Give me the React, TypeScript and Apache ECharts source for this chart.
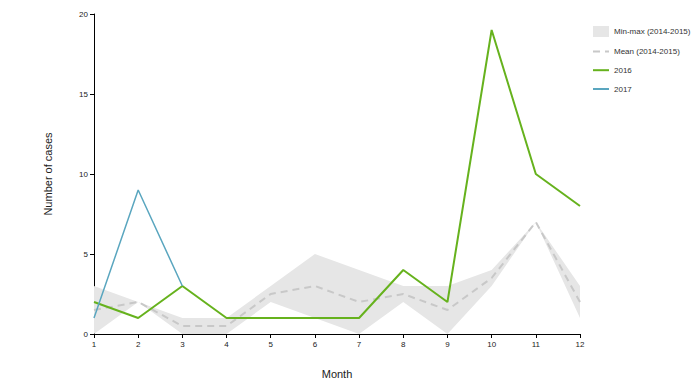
import React, { useEffect, useRef } from "react";
import * as echarts from "echarts";

const months = ["1", "2", "3", "4", "5", "6", "7", "8", "9", "10", "11", "12"];
const minValues = [0, 2, 0, 0, 2, 1, 0, 2, 0, 3, 7, 1];
const maxValues = [3, 2, 1, 1, 3, 5, 4, 3, 3, 4, 7, 3];
const meanValues = [1.5, 2, 0.5, 0.5, 2.5, 3, 2, 2.5, 1.5, 3.5, 7, 2];
const cases2016 = [2, 1, 3, 1, 1, 1, 1, 4, 2, 19, 10, 8];
const cases2017: (number | null)[] = [1, 9, 3, null, null, null, null, null, null, null, null, null];
const yTicks = [0, 5, 10, 15, 20];

const FONT = "Liberation Sans, Arial, sans-serif";

export default function App() {
  const ref = useRef<HTMLDivElement>(null);
  useEffect(() => {
    if (!ref.current) return;
    const chart = echarts.init(ref.current, undefined, { renderer: "svg" });
    const range = maxValues.map((v, i) => v - minValues[i]);
    chart.setOption({
      animation: false,
      textStyle: { fontFamily: FONT },
      grid: { left: 94, right: 120, top: 14, bottom: 52 },
      legend: {
        orient: "vertical",
        left: 592,
        top: 26,
        padding: 0,
        itemWidth: 16,
        itemHeight: 11,
        itemGap: 10,
        itemStyle: { opacity: 0 },
        textStyle: { fontSize: 8, color: "#333", fontFamily: FONT },
        data: [
          { name: "Min-max (2014-2015)", icon: "rect", itemStyle: { color: "#e6e6e6", opacity: 1 } },
          { name: "Mean (2014-2015)" },
          { name: "2016" },
          { name: "2017" },
        ],
      },
      xAxis: {
        type: "category",
        data: months,
        boundaryGap: false,
        name: "Month",
        nameLocation: "middle",
        nameGap: 34,
        nameTextStyle: { fontSize: 11, color: "#222", fontFamily: FONT },
        axisLine: { lineStyle: { color: "#000", width: 1 } },
        axisTick: { length: 4, lineStyle: { color: "#000" } },
        axisLabel: { fontSize: 8, color: "#222", margin: 6 },
        splitLine: { show: false },
      },
      yAxis: {
        type: "value",
        min: yTicks[0],
        max: yTicks[yTicks.length - 1],
        interval: 5,
        name: "Number of cases",
        nameLocation: "middle",
        nameGap: 41,
        nameTextStyle: { fontSize: 11, color: "#222", fontFamily: FONT },
        axisLine: { show: true, lineStyle: { color: "#000", width: 1 } },
        axisTick: { show: true, length: 4, lineStyle: { color: "#000" } },
        axisLabel: { fontSize: 8, color: "#222", margin: 6 },
        splitLine: { show: false },
      },
      series: [
        {
          name: "band-base",
          type: "line",
          data: minValues,
          stack: "band",
          symbol: "none",
          lineStyle: { opacity: 0 },
          silent: true,
        },
        {
          name: "Min-max (2014-2015)",
          type: "line",
          data: range,
          stack: "band",
          symbol: "none",
          lineStyle: { opacity: 0 },
          itemStyle: { color: "#e6e6e6" },
          areaStyle: { color: "#e6e6e6", opacity: 1 },
          silent: true,
        },
        {
          name: "Mean (2014-2015)",
          type: "line",
          data: meanValues,
          symbol: "none",
          itemStyle: { color: "#c8c8c8" },
          lineStyle: { color: "#c8c8c8", width: 2, type: [7, 5] },
        },
        {
          name: "2016",
          type: "line",
          data: cases2016,
          symbol: "none",
          itemStyle: { color: "#66b21d" },
          lineStyle: { color: "#66b21d", width: 2 },
        },
        {
          name: "2017",
          type: "line",
          data: cases2017,
          symbol: "none",
          itemStyle: { color: "#5aa6bf" },
          lineStyle: { color: "#5aa6bf", width: 1.5 },
        },
      ],
    });
    return () => chart.dispose();
  }, []);
  return (
    <div
      ref={ref}
      style={{ position: "absolute", left: 0, top: 0, width: 700, height: 386 }}
    />
  );
}
